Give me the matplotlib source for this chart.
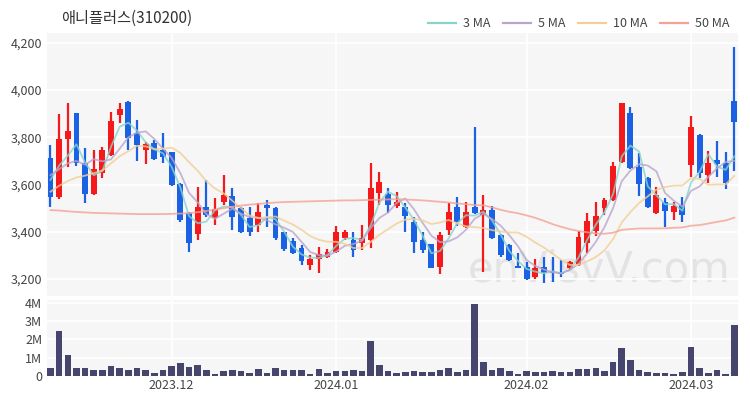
import matplotlib
matplotlib.use('Agg')
import matplotlib.pyplot as plt
from matplotlib.lines import Line2D
from matplotlib.ticker import FuncFormatter
import numpy as np
import pandas as pd

plt.rcParams['font.family'] = ['Noto Sans CJK KR', 'DejaVu Sans']

title = '애니플러스(310200)'

# 거래일 (KRX 휴장일 제외)
holidays = ['2023-12-25', '2023-12-29', '2024-01-01', '2024-02-09', '2024-02-12', '2024-03-01']
dates = pd.bdate_range('2023-11-13', '2024-03-11').drop(pd.to_datetime(holidays))

opens = [3713, 3548, 3793, 3903, 3692, 3560, 3649, 3725, 3895, 3950,
         3819, 3747, 3776, 3747, 3738, 3602, 3480, 3391, 3505, 3458,
         3526, 3552, 3501, 3458, 3429, 3514, 3501, 3399, 3361, 3331,
         3259, 3285, 3293, 3314, 3374, 3365, 3353, 3365, 3564, 3560,
         3509, 3505, 3442, 3365, 3348, 3251, 3408, 3505, 3420, 3505,
         3471, 3492, 3386, 3344, 3255, 3251, 3208, 3251, 3234, 3230,
         3247, 3259, 3353, 3403, 3501, 3535, 3696, 3903, 3675, 3628,
         3480, 3526, 3484, 3514, 3683, 3810, 3641, 3704, 3692, 3954]
highs = [3768, 3899, 3946, 3905, 3755, 3747, 3759, 3908, 3946, 3955,
         3874, 3780, 3789, 3819, 3740, 3605, 3485, 3590, 3620, 3543,
         3640, 3586, 3505, 3505, 3522, 3535, 3505, 3400, 3374, 3344,
         3302, 3336, 3327, 3425, 3408, 3399, 3429, 3692, 3653, 3586,
         3569, 3522, 3463, 3399, 3350, 3399, 3522, 3547, 3526, 3844,
         3556, 3509, 3390, 3350, 3310, 3272, 3285, 3293, 3293, 3280,
         3275, 3403, 3480, 3526, 3543, 3696, 3946, 3929, 3734, 3630,
         3590, 3543, 3526, 3547, 3891, 3815, 3742, 3785, 3738, 4183]
lows = [3505, 3540, 3675, 3680, 3522, 3555, 3628, 3720, 3861, 3747,
        3700, 3687, 3705, 3692, 3595, 3442, 3314, 3365, 3463, 3429,
        3515, 3408, 3395, 3382, 3399, 3420, 3365, 3320, 3306, 3259,
        3238, 3225, 3290, 3310, 3365, 3293, 3323, 3331, 3514, 3480,
        3500, 3399, 3310, 3310, 3245, 3221, 3386, 3425, 3415, 3475,
        3230, 3370, 3295, 3275, 3245, 3195, 3200, 3183, 3187, 3208,
        3240, 3255, 3310, 3382, 3471, 3530, 3690, 3665, 3552, 3500,
        3475, 3420, 3450, 3442, 3632, 3628, 3607, 3632, 3581, 3658]
closes = [3548, 3793, 3827, 3692, 3560, 3666, 3747, 3869, 3920, 3797,
          3768, 3772, 3708, 3717, 3598, 3450, 3353, 3505, 3471, 3497,
          3555, 3463, 3399, 3399, 3484, 3501, 3374, 3327, 3310, 3276,
          3285, 3306, 3314, 3399, 3399, 3323, 3374, 3586, 3611, 3514,
          3526, 3467, 3357, 3323, 3247, 3386, 3484, 3442, 3484, 3480,
          3492, 3374, 3302, 3281, 3247, 3200, 3247, 3225, 3225, 3222,
          3272, 3378, 3446, 3467, 3535, 3679, 3946, 3670, 3603, 3505,
          3556, 3488, 3509, 3471, 3844, 3649, 3692, 3687, 3607, 3865]
# 거래량 (백만주)
volumes = [0.46, 2.44, 1.16, 0.41, 0.46, 0.31, 0.33, 0.56, 0.46, 0.35,
           0.43, 0.31, 0.17, 0.33, 0.57, 0.72, 0.50, 0.59, 0.31, 0.13,
           0.28, 0.31, 0.26, 0.17, 0.39, 0.19, 0.41, 0.31, 0.31, 0.33,
           0.13, 0.39, 0.17, 0.26, 0.28, 0.33, 0.28, 1.89, 0.61, 0.28,
           0.15, 0.24, 0.28, 0.20, 0.20, 0.35, 0.41, 0.20, 0.31, 3.94,
           0.74, 0.31, 0.44, 0.30, 0.13, 0.30, 0.24, 0.20, 0.28, 0.22,
           0.20, 0.39, 0.39, 0.44, 0.30, 0.74, 1.52, 0.89, 0.33, 0.20,
           0.17, 0.15, 0.11, 0.22, 1.61, 0.46, 0.19, 0.33, 0.13, 2.80]

# 화면 이전 구간 데이터가 필요한 이동평균 앞부분
ma3_head = [3620, 3680]
ma5_head = [3640, 3665, 3690, 3700]
ma10_head = [3570, 3595, 3615, 3630, 3638, 3648, 3660, 3690, 3720]
ma50_head = [3492, 3490, 3487, 3484, 3482, 3480, 3479, 3478, 3477, 3476,
             3475, 3475, 3475, 3475, 3476, 3477, 3479, 3483, 3488, 3494,
             3500, 3506, 3511, 3515, 3518, 3521, 3524, 3526, 3527, 3528,
             3529, 3530, 3531, 3532, 3533, 3533, 3534, 3535, 3536, 3537,
             3538, 3537, 3535, 3533, 3530, 3527, 3524, 3520, 3517]

ma_names = ['3 MA', '5 MA', '10 MA', '50 MA']
ma_colors = ['#86d5cb', '#b9a4cc', '#f1cf96', '#f4a293']


def moving_avg(n, head):
    m = pd.Series(closes, dtype=float).rolling(n).mean().values
    m[:len(head)] = head
    return m


mas = [moving_avg(3, ma3_head), moving_avg(5, ma5_head),
       moving_avg(10, ma10_head), moving_avg(50, ma50_head)]

x = np.arange(len(closes))
o = np.array(opens)
c = np.array(closes)
up = c >= o
red = '#f5191c'
blue = '#1a62e3'
col = np.where(up, red, blue)

fig = plt.figure(figsize=(7.5, 4), dpi=100)
ax = fig.add_axes([0.0627, 0.26, 0.921, 0.6575])
axv = fig.add_axes([0.0627, 0.06, 0.921, 0.19], sharex=ax)

bg = '#f6f6f7'
month_idx = [i for i in range(1, len(dates)) if dates[i].month != dates[i - 1].month]
month_lab = [dates[i].strftime('%Y.%m') for i in month_idx]

for a in (ax, axv):
    a.set_facecolor(bg)
    for s in a.spines.values():
        s.set_visible(False)
    a.tick_params(length=0, labelsize=9, colors='#444444')
    for m in month_idx:
        a.axvline(m, color='white', lw=1.2, zorder=0)

# 워터마크
ax.text(78.6, 3150, 'enVisvV.com', fontsize=30, color='#e3e3e3',
        ha='right', va='bottom', zorder=0.5, family=['DejaVu Sans'])

# 캔들
ax.vlines(x, lows, highs, colors=col, lw=1.6, zorder=2)
body = np.maximum(np.abs(c - o), 4)
ax.bar(x, body, bottom=np.minimum(o, c), width=0.68, color=col, zorder=3)

for m, name, clr in zip(mas, ma_names, ma_colors):
    ax.plot(x, m, color=clr, lw=1.3, alpha=0.8, zorder=4, label=name)

ax.set_ylim(3128, 4242)
ax.set_yticks([3200, 3400, 3600, 3800, 4000, 4200])
ax.yaxis.set_major_formatter(FuncFormatter(lambda v, p: f'{v:,.0f}'))
ax.grid(axis='y', color='white', lw=1.2, zorder=0)
ax.set_xlim(-0.4, 79.4)
ax.tick_params(axis='x', labelbottom=False)

ax.text(0.02, 1.025, title, transform=ax.transAxes, fontsize=11, color='#333333',
        ha='left', va='bottom')

handles = [Line2D([], [], color=clr, lw=1.6) for clr in ma_colors]
fig.legend(handles, ma_names, loc='upper right', bbox_to_anchor=(0.988, 0.985),
           ncol=4, frameon=False, fontsize=9, handlelength=2.2, handletextpad=0.6,
           columnspacing=1.0, labelcolor='#444444')

# 거래량
axv.bar(x, volumes, width=0.76, color='#45456d', zorder=3)
axv.set_ylim(0, 4.15)
axv.set_yticks([0, 1, 2, 3, 4])
axv.set_yticklabels(['0', '1M', '2M', '3M', '4M'])
axv.grid(axis='y', color='white', lw=1.2, zorder=0)
axv.set_xticks(month_idx)
axv.set_xticklabels(month_lab)
axv.tick_params(axis='x', pad=2)

fig.savefig('out.png', dpi=100)
